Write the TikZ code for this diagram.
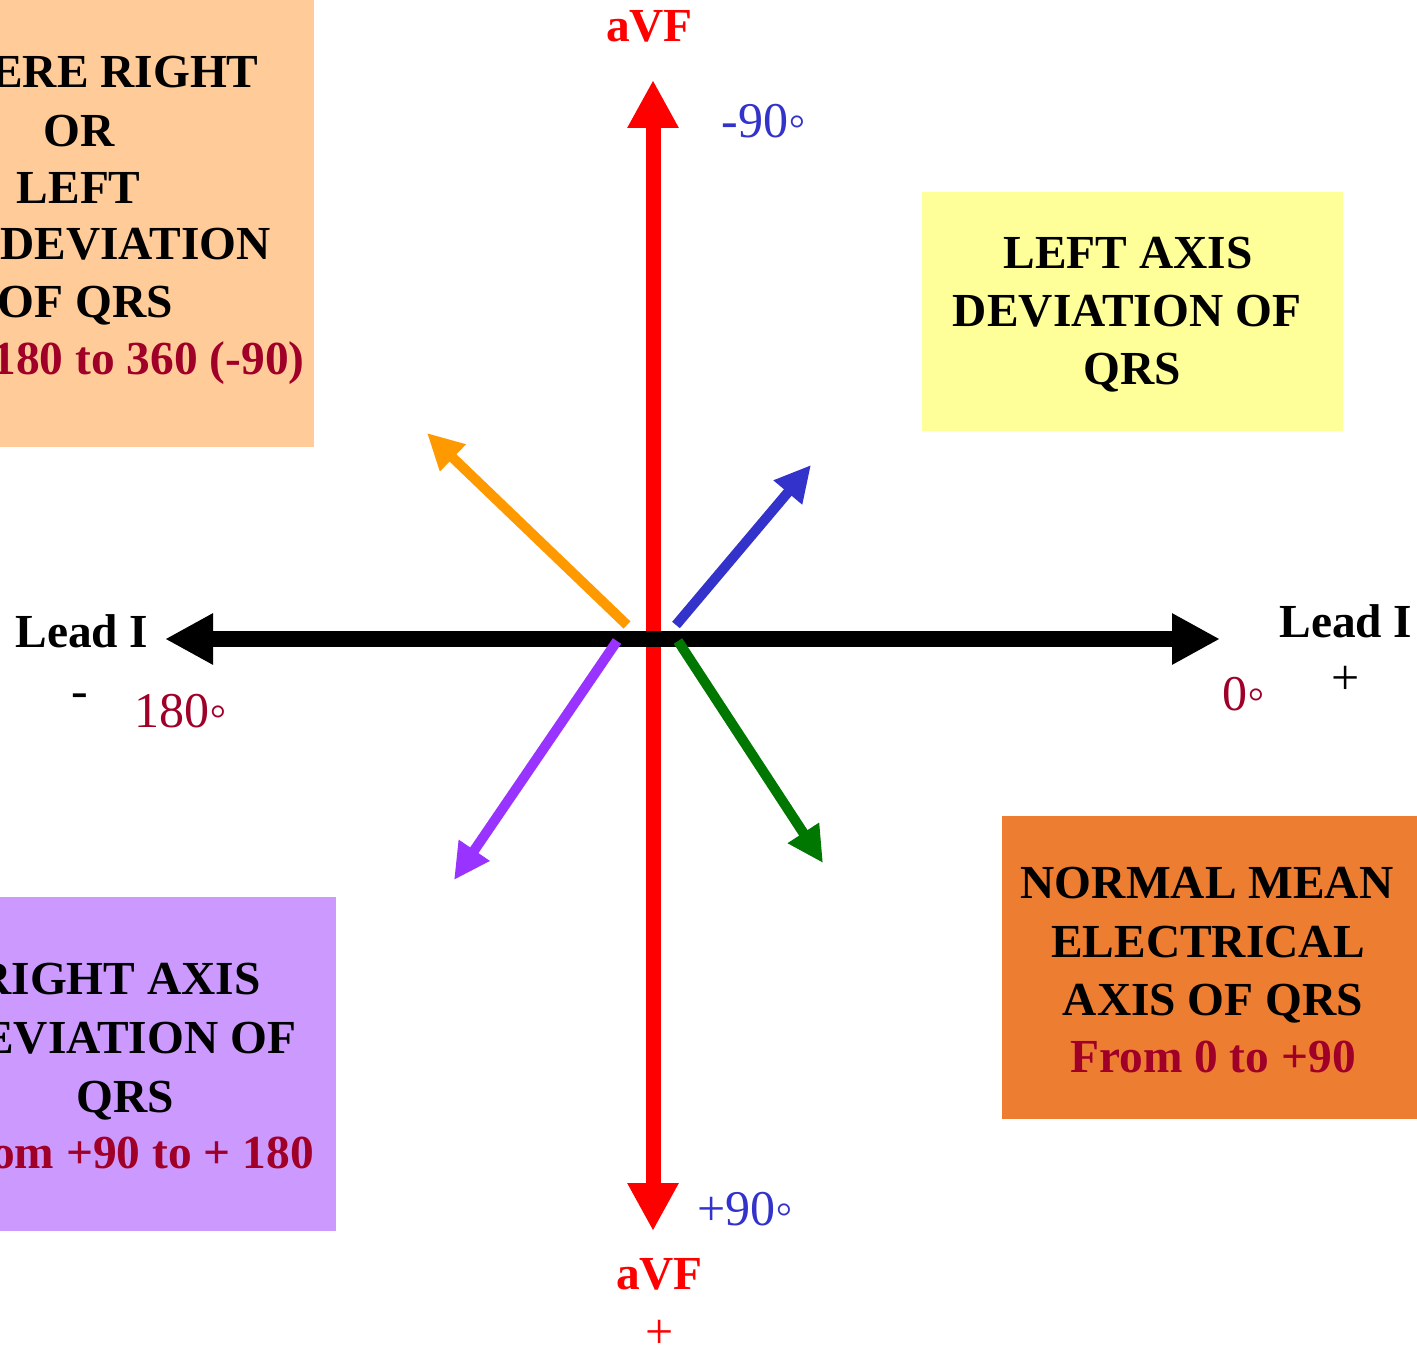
\documentclass[tikz,border=0pt]{standalone}
\usepackage{fontspec}
\setmainfont{Liberation Serif}
\usetikzlibrary{arrows.meta}
\definecolor{peach}{HTML}{FFCC99}
\definecolor{lyellow}{HTML}{FFFF99}
\definecolor{lpurple}{HTML}{CC99FF}
\definecolor{dorange}{HTML}{ED7D31}
\definecolor{dred}{RGB}{160,0,40}
\definecolor{tblue}{HTML}{3333CC}
\definecolor{aorange}{HTML}{FF9900}
\definecolor{ablue}{HTML}{3333CC}
\definecolor{apurple}{HTML}{9933FF}
\definecolor{agreen}{HTML}{007700}
\tikzset{
  boldtxt/.style={inner sep=0pt, font=\fontsize{23.7}{29}\selectfont\bfseries},
  regtxt/.style={inner sep=0pt, font=\fontsize{25}{30}\selectfont},
  bigaxis/.style={line width=#1, {Triangle[length=24pt,width=24pt]}-{Triangle[length=24pt,width=24pt]}},
  vecarrow/.style={line width=5pt, -{Triangle[length=18pt,width=17.5pt]}}
}
\begin{document}
\begin{tikzpicture}[x=0.5pt,y=-0.5pt]
\useasboundingbox (0,0) rectangle (1417,1347);
\clip (0,0) rectangle (1417,1347);
\fill[white] (0,0) rectangle (1417,1347);
% boxes
\fill[peach] (0,0) rectangle (314,447);
\fill[lyellow] (922,192) rectangle (1343,431);
\fill[lpurple] (0,897) rectangle (336,1231);
\fill[dorange] (1002,816) rectangle (1417,1119);
% coordinates
\coordinate (O) at (653,639);
\coordinate (T) at (653,80);
\coordinate (B) at (653,1231);
\coordinate (L) at (165,639);
\coordinate (R) at (1220,639);
\coordinate (os) at (627,625);
\coordinate (oe) at (427,433);
\coordinate (bs) at (676,625);
\coordinate (be) at (811,465);
\coordinate (ps) at (617,641);
\coordinate (pe) at (454,880);
\coordinate (gs) at (678,641);
\coordinate (ge) at (823,863);
% axes
\draw[red, bigaxis=7.5pt] (B) -- (T);
\draw[black, bigaxis=8pt] (L) -- (R);
% vectors
\draw[aorange, vecarrow] (os) -- (oe);
\draw[ablue, vecarrow] (bs) -- (be);
\draw[apurple, vecarrow] (ps) -- (pe);
\draw[agreen, vecarrow] (gs) -- (ge);
% axis labels
\node[boldtxt, red, anchor=base] (avft) at (649.5,42) {aVF};
\node[boldtxt, red, anchor=base] (avfb) at (659.5,1289) {aVF};
\node[regtxt, red, anchor=base] (pluspos) at (660,1348) {+};
\node[regtxt, tblue, anchor=base west] (m90) at (721,138) {-90◦};
\node[regtxt, tblue, anchor=base west] (p90) at (697,1225) {+90◦};
\node[boldtxt, anchor=base west] (leadl) at (15,647) {Lead I};
\node[boldtxt, anchor=base west] (leadr) at (1279,637) {Lead I};
\node[regtxt, anchor=base] (minus) at (80,707) {-};
\node[regtxt, anchor=base] (plus) at (1346,694) {+};
\node[regtxt, dred, anchor=base west] (d180) at (134,727) {180◦};
\node[regtxt, dred, anchor=base west] (d0) at (1222,710) {0◦};
% peach box text
\node[boldtxt, anchor=base east] (pa1) at (259,88) {SEVERE RIGHT};
\node[boldtxt, anchor=base east] (pa2) at (115,147) {OR};
\node[boldtxt, anchor=base east] (pa3) at (141,204) {LEFT};
\node[boldtxt, anchor=base east] (pa4) at (271,260) {DEVIATION};
\node[boldtxt, anchor=base east] (pa5) at (173,318) {OF QRS};
\node[boldtxt, dred, anchor=base east] (pa6) at (305,375) {From 180 to 360 (-90)};
% yellow box text
\node[boldtxt, anchor=base] (ya1) at (1128,269) {LEFT AXIS};
\node[boldtxt, anchor=base] (ya2) at (1127,327) {DEVIATION OF};
\node[boldtxt, anchor=base] (ya3) at (1132,385) {QRS};
% orange box text
\node[boldtxt, anchor=base] (oa1) at (1207,898) {NORMAL MEAN};
\node[boldtxt, anchor=base] (oa2) at (1208,957) {ELECTRICAL};
\node[boldtxt, anchor=base] (oa3) at (1213,1015) {AXIS OF QRS};
\node[boldtxt, dred, anchor=base] (oa4) at (1213,1072) {From 0 to +90};
% purple box text
\node[boldtxt, anchor=base] (pu1) at (119,994) {RIGHT AXIS};
\node[boldtxt, anchor=base] (pu2) at (122,1053) {DEVIATION OF};
\node[boldtxt, anchor=base] (pu3) at (125,1112) {QRS};
\node[boldtxt, dred, anchor=base] (pu4) at (128,1168) {From +90 to + 180};
\end{tikzpicture}
\end{document}
